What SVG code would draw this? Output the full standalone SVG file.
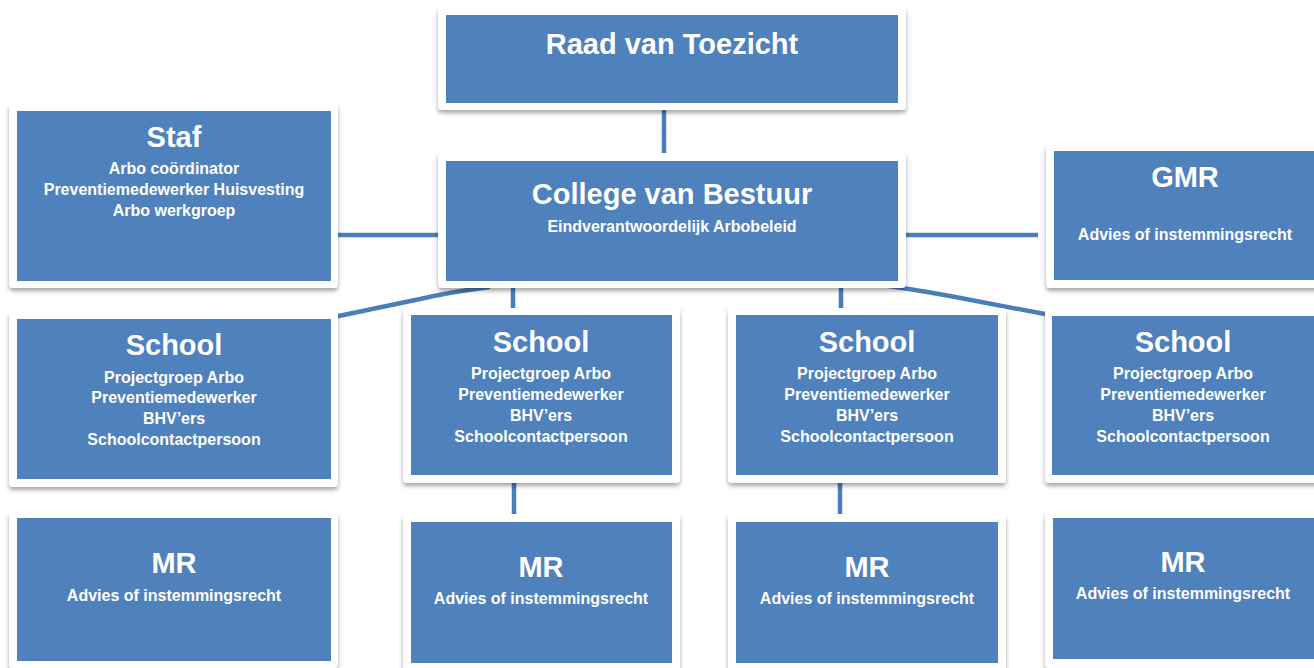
<svg xmlns="http://www.w3.org/2000/svg" width="1314" height="668" viewBox="0 0 1314 668">
<defs>
<filter id="sh" x="-10%" y="-10%" width="120%" height="130%">
<feDropShadow dx="0" dy="3" stdDeviation="2" flood-color="#000" flood-opacity="0.35"/>
</filter>
<style>
.frame{fill:#ffffff;filter:url(#sh)}
.box{fill:#4F81BD}
.t{font-family:"Liberation Sans",Arial,Helvetica,sans-serif;font-weight:bold;fill:#ffffff;text-anchor:middle}
.h{font-size:29px}
.s{font-size:16px}
.c{fill:none;stroke:#4A7EBB;stroke-width:4.5}
</style>
</defs>
<rect width="1314" height="668" fill="#ffffff"/>
<g id="connectors">
<line class="c" x1="664" y1="105" x2="664" y2="158"/>
<line class="c" x1="330" y1="235" x2="445" y2="235"/>
<line class="c" x1="900" y1="235" x2="1038" y2="235"/>
<path class="c" d="M334 317 L420 299 Q450 292 490 287"/>
<path class="c" d="M860 282 Q900 287 950 296 L1050 315"/>
<line class="c" x1="513" y1="280" x2="513" y2="312"/>
<line class="c" x1="841" y1="280" x2="841" y2="312"/>
<line class="c" x1="514" y1="478" x2="514" y2="518"/>
<line class="c" x1="840" y1="478" x2="840" y2="518"/>
</g>
<g id="raad">
<rect class="frame" x="438" y="7" width="468" height="103" rx="4"/>
<rect class="box" x="446" y="15" width="452" height="88"/>
<text class="t h" x="672" y="54">Raad van Toezicht</text>
</g>
<g id="cvb">
<rect class="frame" x="438" y="153" width="468" height="135" rx="4"/>
<rect class="box" x="446" y="161" width="452" height="120"/>
<text class="t h" x="672" y="204">College van Bestuur</text>
<text class="t s" x="672" y="232">Eindverantwoordelijk Arbobeleid</text>
</g>
<g id="staf">
<rect class="frame" x="9" y="103" width="329" height="185" rx="4"/>
<rect class="box" x="17" y="111" width="314" height="170"/>
<text class="t h" x="174" y="147">Staf</text>
<text class="t s" x="174" y="174">Arbo coördinator</text>
<text class="t s" x="174" y="195">Preventiemedewerker Huisvesting</text>
<text class="t s" x="174" y="216">Arbo werkgroep</text>
</g>
<g id="gmr">
<rect class="frame" x="1046" y="144" width="300" height="144" rx="4"/>
<rect class="box" x="1054" y="151" width="280" height="129"/>
<text class="t h" x="1185" y="187">GMR</text>
<text class="t s" x="1185" y="240">Advies of instemmingsrecht</text>
</g>
<g id="school1">
<rect class="frame" x="9" y="311" width="329" height="176" rx="4"/>
<rect class="box" x="17" y="319" width="314" height="160"/>
<text class="t h" x="174" y="355">School</text>
<text class="t s" x="174" y="383">Projectgroep Arbo</text>
<text class="t s" x="174" y="403">Preventiemedewerker</text>
<text class="t s" x="174" y="424">BHV’ers</text>
<text class="t s" x="174" y="445">Schoolcontactpersoon</text>
</g>
<g id="school2">
<rect class="frame" x="403" y="308" width="277" height="175" rx="4"/>
<rect class="box" x="411" y="315" width="261" height="160"/>
<text class="t h" x="541" y="352">School</text>
<text class="t s" x="541" y="379">Projectgroep Arbo</text>
<text class="t s" x="541" y="400">Preventiemedewerker</text>
<text class="t s" x="541" y="421">BHV’ers</text>
<text class="t s" x="541" y="442">Schoolcontactpersoon</text>
</g>
<g id="school3">
<rect class="frame" x="728" y="308" width="278" height="175" rx="4"/>
<rect class="box" x="736" y="315" width="262" height="160"/>
<text class="t h" x="867" y="352">School</text>
<text class="t s" x="867" y="379">Projectgroep Arbo</text>
<text class="t s" x="867" y="400">Preventiemedewerker</text>
<text class="t s" x="867" y="421">BHV’ers</text>
<text class="t s" x="867" y="442">Schoolcontactpersoon</text>
</g>
<g id="school4">
<rect class="frame" x="1045" y="308" width="300" height="175" rx="4"/>
<rect class="box" x="1052" y="316" width="282" height="159"/>
<text class="t h" x="1183" y="352">School</text>
<text class="t s" x="1183" y="379">Projectgroep Arbo</text>
<text class="t s" x="1183" y="400">Preventiemedewerker</text>
<text class="t s" x="1183" y="421">BHV’ers</text>
<text class="t s" x="1183" y="442">Schoolcontactpersoon</text>
</g>
<g id="mr1">
<rect class="frame" x="9" y="512" width="329" height="156" rx="4"/>
<rect class="box" x="17" y="518" width="314" height="143"/>
<text class="t h" x="174" y="573">MR</text>
<text class="t s" x="174" y="601">Advies of instemmingsrecht</text>
</g>
<g id="mr2">
<rect class="frame" x="403" y="514" width="277" height="162" rx="4"/>
<rect class="box" x="411" y="522" width="261" height="141"/>
<text class="t h" x="541" y="577">MR</text>
<text class="t s" x="541" y="604">Advies of instemmingsrecht</text>
</g>
<g id="mr3">
<rect class="frame" x="728" y="514" width="278" height="162" rx="4"/>
<rect class="box" x="736" y="522" width="262" height="141"/>
<text class="t h" x="867" y="577">MR</text>
<text class="t s" x="867" y="604">Advies of instemmingsrecht</text>
</g>
<g id="mr4">
<rect class="frame" x="1045" y="512" width="300" height="156" rx="4"/>
<rect class="box" x="1053" y="518" width="281" height="141"/>
<text class="t h" x="1183" y="572">MR</text>
<text class="t s" x="1183" y="599">Advies of instemmingsrecht</text>
</g>
</svg>
